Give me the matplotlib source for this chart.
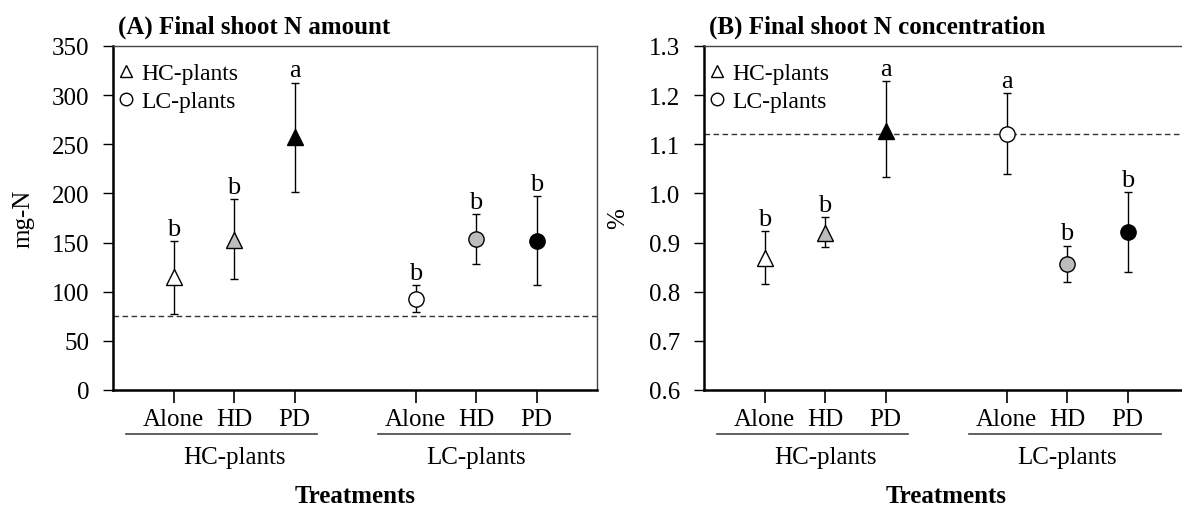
import matplotlib
matplotlib.use("Agg")
import matplotlib.pyplot as plt
from matplotlib.lines import Line2D
import numpy as np

plt.rcParams['font.family'] = ['Liberation Serif', 'DejaVu Serif']

# ---------------- data ----------------
treatments = ["Alone", "HD", "PD"]
groups = ["HC-plants", "LC-plants"]
x_hc = [1, 2, 3]
x_lc = [5, 6, 7]

# (A) Final shoot N amount (mg-N)
a_hc_mean = [114.7, 152.8, 257.3]
a_hc_low = [77.7, 112.6, 201.9]
a_hc_high = [151.6, 194.0, 312.8]
a_lc_mean = [93.0, 153.3, 151.6]
a_lc_low = [79.0, 127.9, 106.5]
a_lc_high = [106.5, 178.8, 197.4]
a_hc_letters = ["b", "b", "a"]
a_lc_letters = ["b", "b", "b"]
a_ref = 75.3

# (B) Final shoot N concentration (%)
b_hc_mean = [0.869, 0.920, 1.127]
b_hc_low = [0.815, 0.891, 1.033]
b_hc_high = [0.924, 0.952, 1.229]
b_lc_mean = [1.120, 0.857, 0.922]
b_lc_low = [1.040, 0.820, 0.841]
b_lc_high = [1.204, 0.894, 1.003]
b_hc_letters = ["b", "b", "a"]
b_lc_letters = ["a", "b", "b"]
b_ref = 1.12

fills = ["white", "#bdbdbd", "black"]

FS = 18
fig = plt.figure(figsize=(11.82, 5.10), dpi=100)
W, H = 1182, 510
ax_left = 113 / W
ax_w = 484 / W
ax_b = (H - 391) / H
ax_h = 344 / H
axA = fig.add_axes([ax_left, ax_b, ax_w, ax_h])
axB = fig.add_axes([704 / W, ax_b, ax_w, ax_h])


def draw_panel(ax, hc, lc, ref, ylim, yticks, yticklabels, ylabel, title, ylab_x):
    ax.set_xlim(0, 8)
    ax.set_ylim(*ylim)
    for (xs, mean, low, high, letters), mk in zip([(x_hc,) + hc, (x_lc,) + lc], ["^", "o"]):
        for xi, m, lo, hi, lt, fc in zip(xs, mean, low, high, letters, fills):
            ax.errorbar([xi], [m], yerr=[[m - lo], [hi - m]], fmt=mk, ms=11,
                        mfc=fc, mec="black", mew=1.0, ecolor="black",
                        elinewidth=1.0, capsize=3, capthick=1.0, zorder=3)
            ax.annotate(lt, (xi, hi), xytext=(0, 4.5), textcoords="offset points",
                        ha="center", va="baseline", fontsize=19)
    ax.axhline(ref, color="#333333", lw=1.0, ls=(0, (4, 2.5)), zorder=2)

    ax.set_yticks(yticks)
    ax.set_yticklabels(yticklabels, fontsize=FS)
    ax.set_xticks(x_hc + x_lc)
    ax.set_xticklabels(treatments + treatments, fontsize=FS)
    ax.tick_params(axis="y", direction="out", length=7, width=1.0, pad=10)
    ax.tick_params(axis="x", direction="out", length=9, width=1.2, pad=4)

    for s in ["left", "bottom"]:
        ax.spines[s].set_linewidth(1.8)
        ax.spines[s].set_color("black")
    for s in ["top", "right"]:
        ax.spines[s].set_linewidth(1.0)
        ax.spines[s].set_color("#444444")

    trans = ax.get_xaxis_transform()
    for (x0, x1), xc, g in zip([(0.22, 3.38), (4.38, 7.55)], [2, 6], groups):
        ax.plot([x0, x1], [-0.128, -0.128], transform=trans, color="#444444",
                lw=1.2, clip_on=False)
        ax.text(xc, -0.195, g, transform=trans, ha="center", va="center", fontsize=FS)

    ax.set_xlabel("Treatments", fontsize=FS, fontweight="bold")
    ax.xaxis.set_label_coords(0.5, -0.272)
    ax.set_ylabel(ylabel, fontsize=FS, va="center")
    ax.yaxis.set_label_coords(ylab_x, 0.5)
    ax.set_title(title, loc="left", fontsize=FS, fontweight="bold", pad=10, x=0.01)

    handles = [Line2D([], [], marker="^", ls="none", mfc="white", mec="black", ms=9, mew=1.0),
               Line2D([], [], marker="o", ls="none", mfc="white", mec="black", ms=9, mew=1.0)]
    ax.legend(handles, groups, loc="upper left", bbox_to_anchor=(0.003, 0.958),
              frameon=False, fontsize=17, handlelength=0.8, handletextpad=0.25,
              labelspacing=0.25, borderaxespad=0.0, borderpad=0.1)


draw_panel(axA,
           (a_hc_mean, a_hc_low, a_hc_high, a_hc_letters),
           (a_lc_mean, a_lc_low, a_lc_high, a_lc_letters),
           a_ref, (0, 350), [0, 50, 100, 150, 200, 250, 300, 350],
           ["0", "50", "100", "150", "200", "250", "300", "350"],
           "mg-N", "(A) Final shoot N amount", -0.185)

draw_panel(axB,
           (b_hc_mean, b_hc_low, b_hc_high, b_hc_letters),
           (b_lc_mean, b_lc_low, b_lc_high, b_lc_letters),
           b_ref, (0.6, 1.3), [0.6, 0.7, 0.8, 0.9, 1.0, 1.1, 1.2, 1.3],
           ["0.6", "0.7", "0.8", "0.9", "1.0", "1.1", "1.2", "1.3"],
           "%", "(B) Final shoot N concentration", -0.178)

fig.savefig("out.png", dpi=100)
